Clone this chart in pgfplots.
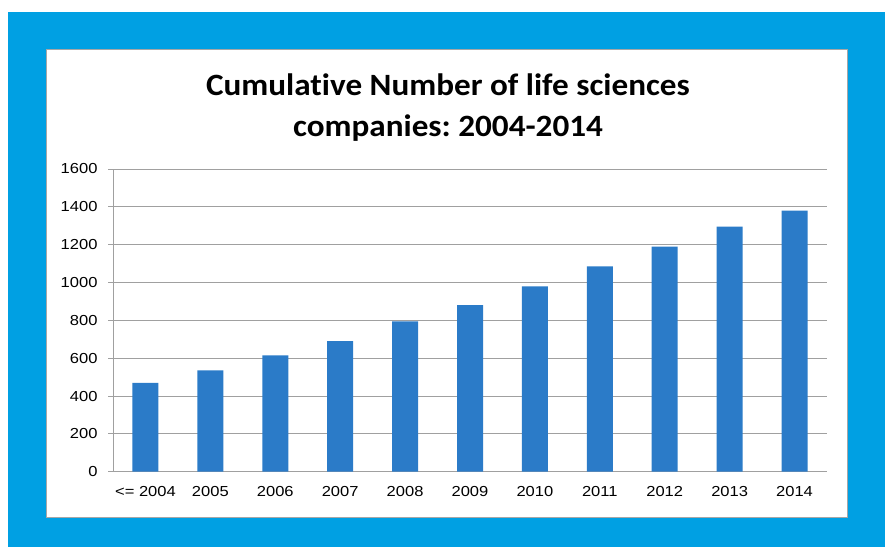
\documentclass[border=0pt]{standalone}
\usepackage{pgfplots}
\pgfplotsset{compat=1.18}
\usepackage{fontspec}
\setmainfont{Liberation Sans}
\newfontfamily\tickfont[FakeStretch=1.14]{Liberation Sans}
\newfontfamily\titlefont[FakeStretch=1.07, Ligatures={NoCommon}]{Carlito}
\definecolor{frameblue}{RGB}{0,160,227}
\definecolor{barblue}{RGB}{43,123,200}
\definecolor{gridgray}{RGB}{160,160,160}
\frenchspacing
\begin{document}
\begin{tikzpicture}[x=1pt,y=1pt]
\path[use as bounding box] (0,0) rectangle (887,547);
\fill[white] (0,0) rectangle (887,547);
\fill[frameblue] (8,0) rectangle (885,535);
\fill[white, draw=gray!70, line width=1pt] (46,30) rectangle (847,497);
\node[anchor=base, inner sep=0pt, font=\titlefont\bfseries\fontsize{31}{34}\selectfont] at (448,451) {Cumulative Number of life sciences};
\node[anchor=base, inner sep=0pt, font=\titlefont\bfseries\fontsize{31}{34}\selectfont] at (448,410) {companies: 2004-2014};
\begin{axis}[
  at={(113pt,75.3pt)}, anchor=south west,
  scale only axis, width=714pt, height=302.7pt,
  xmin=-0.5, xmax=10.5, ymin=0, ymax=1600,
  ytick={0,200,...,1600},
  xtick={0,...,10},
  xticklabels={{<= 2004},2005,2006,2007,2008,2009,2010,2011,2012,2013,2014},
  axis x line*=bottom, axis y line*=left,
  axis line style={-, gridgray, line width=1pt},
  ymajorgrids, grid style={gridgray, line width=1pt},
  tick align=outside, major tick length=5pt,
  every tick/.style={gridgray, line width=1pt},
  major x tick style={draw=none},
  extra x ticks={-0.5,0.5,...,10.5},
  extra x tick labels={},
  extra x tick style={grid=none, major tick length=5pt, major x tick style={gridgray, line width=1pt}},
  tick label style={font=\tickfont\fontsize{14.5}{16}\selectfont, text=black},
  yticklabel style={xshift=-7pt},
  xticklabel style={yshift=-6pt},
  /pgf/number format/assume math mode=true,
  /pgf/number format/1000 sep={},
  ybar, bar width=26pt,
]
\addplot[draw=none, fill=barblue] coordinates {
(0,470) (1,535) (2,615) (3,690) (4,795) (5,880) (6,980) (7,1085) (8,1190) (9,1295) (10,1380)
};
\end{axis}
\end{tikzpicture}
\end{document}
